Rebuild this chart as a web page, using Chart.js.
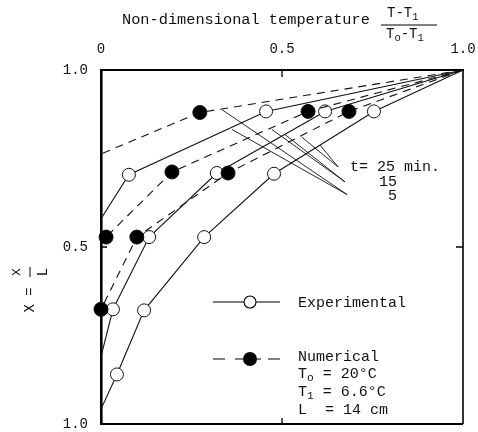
<!DOCTYPE html>
<html lang="en">
<head>
<meta charset="utf-8">
<title>Non-dimensional temperature profiles</title>
<script src="https://cdn.jsdelivr.net/npm/chart.js@4.4.0/dist/chart.umd.min.js"></script>
<style>
  html, body { margin: 0; padding: 0; background: #fff; }
  #wrap { width: 478px; height: 432px; position: relative; }
</style>
</head>
<body>
<div id="wrap"><canvas id="myChart"></canvas></div>
<script>
// every profile starts from the warm wall (T = To at the top corner)
const wallTemp = 1.0;
const wallPos = 1.0;

// experimental profiles (open circles, solid line)
const exp5Temp = [0.456, 0.077];
const exp5Pos  = [0.883, 0.704];
const exp5Edge = [0, 0.58];

const exp15Temp = [0.619, 0.320, 0.133, 0.033];
const exp15Pos  = [0.883, 0.709, 0.528, 0.324];
const exp15Edge = [0, 0.19];

const exp25Temp = [0.754, 0.478, 0.285, 0.119, 0.044];
const exp25Pos  = [0.883, 0.707, 0.528, 0.321, 0.140];
const exp25Edge = [0, 0.042];

// numerical profiles (filled circles, dashed line)
const num5Temp = [0.273];
const num5Pos  = [0.880];
const num5Edge = [0, 0.763];

const num15Temp = [0.572, 0.196, 0.014];
const num15Pos  = [0.883, 0.712, 0.528];

const num25Temp = [0.685, 0.351, 0.099, 0.0];
const num25Pos  = [0.883, 0.709, 0.528, 0.324];

// leader lines from the curves to the "t=" labels
const leaderFromTemp = [0.334, 0.362, 0.472, 0.508, 0.555, 0.605];
const leaderFromPos  = [0.888, 0.832, 0.832, 0.818, 0.810, 0.788];
const leaderToTemp   = [0.680, 0.680, 0.674, 0.674, 0.655, 0.655];
const leaderToPos    = [0.648, 0.648, 0.684, 0.684, 0.726, 0.726];

// axes
const xTickVals = [0, 0.5, 1];
const xTickLabels = ['0', '0.5', '1.0'];
const yTickVals = [0, 0.5, 1];
const yTickLabels = ['1.0', '0.5', '1.0'];

const INK = '#111';
const MONO = "'Liberation Mono', 'DejaVu Sans Mono', monospace";

function profile(temps, pos, edge, numerical) {
  let pts = [{ x: wallTemp, y: wallPos }];
  for (let i = 0; i < temps.length; i++) pts.push({ x: temps[i], y: pos[i] });
  if (edge) pts.push({ x: edge[0], y: edge[1] });
  let radii = pts.map((p, i) => (i === 0 || (edge && i === pts.length - 1)) ? 0 : (numerical ? 7 : 6.5));
  return {
    data: pts,
    showLine: true,
    borderColor: INK,
    borderWidth: 1.1,
    borderDash: numerical ? [8, 6] : [],
    pointRadius: radii,
    pointHoverRadius: radii,
    pointBackgroundColor: numerical ? '#000' : '#fff',
    pointBorderColor: INK,
    pointBorderWidth: 1,
    tension: 0,
    clip: false
  };
}

let datasets = [];
for (let i = 0; i < leaderFromTemp.length; i++) {
  datasets.push({
    data: [{ x: leaderFromTemp[i], y: leaderFromPos[i] }, { x: leaderToTemp[i], y: leaderToPos[i] }],
    showLine: true, borderColor: INK, borderWidth: 0.9, pointRadius: 0, clip: false
  });
}
datasets.push(profile(num5Temp, num5Pos, num5Edge, true));
datasets.push(profile(num15Temp, num15Pos, null, true));
datasets.push(profile(num25Temp, num25Pos, null, true));
datasets.push(profile(exp5Temp, exp5Pos, exp5Edge, false));
datasets.push(profile(exp15Temp, exp15Pos, exp15Edge, false));
datasets.push(profile(exp25Temp, exp25Pos, exp25Edge, false));

// draws a run of [text, isSubscript] pieces, left to right
function drawRun(ctx, parts, x, y, size) {
  for (const [txt, sub] of parts) {
    ctx.font = (sub ? size * 0.75 : size) + 'px ' + MONO;
    ctx.fillText(txt, x, sub ? y + size * 0.3 : y);
    x += ctx.measureText(txt).width;
  }
}

const decorations = {
  id: 'decorations',
  afterDraw(chart) {
    const ctx = chart.ctx;
    const a = chart.chartArea;
    const xs = chart.scales.x, ys = chart.scales.y;
    ctx.save();
    ctx.strokeStyle = '#000';
    ctx.fillStyle = INK;

    // rest of the frame
    ctx.lineWidth = 1.6;
    ctx.beginPath();
    ctx.moveTo(a.right, a.top); ctx.lineTo(a.right, a.bottom);
    ctx.stroke();
    ctx.lineWidth = 2;
    ctx.beginPath();
    ctx.moveTo(a.left, a.bottom); ctx.lineTo(a.right, a.bottom);
    ctx.stroke();

    // inward ticks at the half marks
    const hx = xs.getPixelForValue(0.5), hy = ys.getPixelForValue(0.5);
    ctx.lineWidth = 1.3;
    ctx.beginPath();
    ctx.moveTo(hx, a.top); ctx.lineTo(hx, a.top + 7);
    ctx.moveTo(hx, a.bottom); ctx.lineTo(hx, a.bottom - 6);
    ctx.moveTo(a.left, hy); ctx.lineTo(a.left + 6, hy);
    ctx.moveTo(a.right, hy); ctx.lineTo(a.right - 7, hy);
    ctx.stroke();

    ctx.textBaseline = 'middle';
    ctx.textAlign = 'left';

    // top title with the fraction
    ctx.font = '15.3px ' + MONO;
    ctx.fillText('Non-dimensional temperature', 122, 20);
    drawRun(ctx, [['T-T', false], ['1', true]], 387, 13, 14);
    ctx.lineWidth = 1;
    ctx.beginPath();
    ctx.moveTo(381, 25); ctx.lineTo(437, 25);
    ctx.stroke();
    drawRun(ctx, [['T', false], ['o', true], ['-T', false], ['1', true]], 386, 34, 14);

    // left axis title X = x/L, rotated
    ctx.save();
    ctx.translate(30, 300);
    ctx.rotate(-Math.PI / 2);
    ctx.textAlign = 'center';
    ctx.font = '14px ' + MONO;
    ctx.fillText('X =', 0, 0);
    ctx.fillText('x', 28, -14);
    ctx.fillText('L', 28, 13);
    ctx.lineWidth = 1;
    ctx.beginPath();
    ctx.moveTo(23, 0); ctx.lineTo(33, 0);
    ctx.stroke();
    ctx.restore();

    // time labels
    ctx.font = '15px ' + MONO;
    ctx.fillText('t= 25 min.', 350, 167);
    ctx.textAlign = 'right';
    ctx.fillText('15', 397, 182);
    ctx.fillText('5', 397, 196);
    ctx.textAlign = 'left';

    // legend
    ctx.lineWidth = 1.1;
    ctx.beginPath();
    ctx.moveTo(213, 302); ctx.lineTo(280, 302);
    ctx.stroke();
    ctx.beginPath();
    ctx.arc(250, 302, 6, 0, Math.PI * 2);
    ctx.fillStyle = '#fff'; ctx.fill(); ctx.stroke();
    ctx.fillStyle = INK;
    ctx.font = '15px ' + MONO;
    ctx.fillText('Experimental', 298, 303);

    ctx.beginPath();
    ctx.moveTo(213, 359); ctx.lineTo(225, 359);
    ctx.moveTo(235, 359); ctx.lineTo(243, 359);
    ctx.moveTo(257, 359); ctx.lineTo(261, 359);
    ctx.moveTo(268, 359); ctx.lineTo(280, 359);
    ctx.stroke();
    ctx.beginPath();
    ctx.arc(250, 359, 7, 0, Math.PI * 2);
    ctx.fillStyle = '#000'; ctx.fill();
    ctx.fillStyle = INK;
    ctx.fillText('Numerical', 298, 357);
    drawRun(ctx, [['T', false], ['o', true], [' = 20\u00B0C', false]], 298, 374, 15);
    drawRun(ctx, [['T', false], ['1', true], [' = 6.6\u00B0C', false]], 298, 392, 15);
    ctx.font = '15px ' + MONO;
    ctx.fillText('L  = 14 cm', 298, 410);

    ctx.restore();
  }
};

new Chart(document.getElementById('myChart'), {
  type: 'scatter',
  data: { datasets: datasets },
  options: {
    responsive: true,
    maintainAspectRatio: false,
    animation: false,
    layout: { padding: { left: 0, top: 0, right: 15, bottom: 4 } },
    plugins: { legend: { display: false }, tooltip: { enabled: false } },
    scales: {
      x: {
        type: 'linear', position: 'top', min: 0, max: 1,
        afterBuildTicks: s => { s.ticks = xTickVals.map(v => ({ value: v })); },
        afterFit: s => { s.height = 70; s.paddingLeft = 0; s.paddingRight = 0; },
        ticks: {
          callback: (v, i) => xTickLabels[i],
          font: { family: MONO, size: 14 }, color: INK, padding: 12,
          maxRotation: 0, autoSkip: false
        },
        grid: { display: false, drawTicks: false },
        border: { display: true, color: '#000', width: 2 }
      },
      y: {
        type: 'linear', min: 0, max: 1,
        afterBuildTicks: s => { s.ticks = yTickVals.map(v => ({ value: v })); },
        afterFit: s => { s.width = 101; s.paddingTop = 0; s.paddingBottom = 0; },
        ticks: {
          callback: (v, i) => yTickLabels[i],
          font: { family: MONO, size: 14 }, color: INK, padding: 13,
          autoSkip: false
        },
        grid: { display: false, drawTicks: false },
        border: { display: true, color: '#000', width: 2.6 }
      }
    }
  },
  plugins: [decorations]
});
</script>
</body>
</html>
